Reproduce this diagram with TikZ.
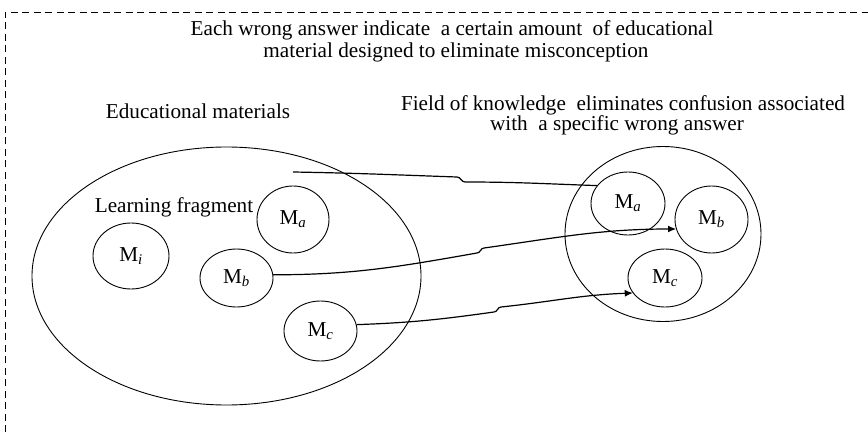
\documentclass[tikz,border=0pt]{standalone}
\usepackage{fontspec}
\setmainfont{Liberation Serif}
\usetikzlibrary{shapes.geometric, arrows.meta, positioning}

\newcommand{\mtxt}[1]{M\textsubscript{\itshape #1}}

\begin{document}
\begin{tikzpicture}[x=1pt, y=1pt,
  txt/.style={font=\fontsize{21.2}{22}\selectfont, align=center, inner sep=0pt},
  area/.style={ellipse, draw, line width=0.9pt, inner sep=0pt},
  frag/.style={ellipse, draw, line width=0.9pt, inner sep=0pt,
    font=\fontsize{21.2}{22}\selectfont},
  link/.style={line width=1.2pt},
  arrow/.style={line width=1.2pt, -{Latex[length=8pt,width=7pt]}}
]
\useasboundingbox (0,0) rectangle (868,432);

% Frame
\draw[line width=0.8pt, dash pattern=on 7pt off 4.5pt]
  (5,0) -- (5,420) -- (868,420);

% Title
\node[txt, anchor=base] (title) at (452,396)
  {Each wrong answer indicate\ \ a certain amount\ \ of educational};
\node[txt, anchor=base] (title2) at (456,374)
  {material designed to eliminate misconception};

% Left side: educational materials
\node[area, minimum width=389, minimum height=258] (edu) at (226.5,156) {};
\node[txt, anchor=base] (edulbl) at (198,313) {Educational materials};
\node[txt, anchor=base] (fraglbl) at (174,220) {Learning fragment};

\node[frag, minimum width=72, minimum height=67] (Ma) at (293,212.5) {\mtxt{a}};
\node[frag, minimum width=76, minimum height=66] (Mi) at (131,176) {\mtxt{i}};
\node[frag, minimum width=73, minimum height=58] (Mb) at (236.5,154) {\mtxt{b}};
\node[frag, minimum width=73, minimum height=60] (Mc) at (320.5,101) {\mtxt{c}};

% Right side: field of knowledge
\node[area, minimum width=196, minimum height=175] (field) at (663,198) {};
\node[txt, anchor=base] (fieldlbl) at (623,321)
  {Field of knowledge\ \ eliminates confusion associated};
\node[txt, anchor=base] (fieldlbl2) at (617,301)
  {with\ \ a specific wrong answer};

\node[frag, minimum width=74, minimum height=63] (Mar) at (628,228.5) {\mtxt{a}};
\node[frag, minimum width=73, minimum height=67] (Mbr) at (711.5,212.5) {\mtxt{b}};
\node[frag, minimum width=74, minimum height=58] (Mcr) at (665,154) {\mtxt{c}};

% Connectors
\coordinate (src) at (293,260);
\coordinate (ka1) at (457,255);
\coordinate (ka2) at (465,250);
\coordinate (kb1) at (477,179);
\coordinate (kb2) at (484,184);
\coordinate (kc1) at (494,120);
\coordinate (kc2) at (501,125);

\draw[link] (src) to[out=-1,in=178] (ka1) to[out=0,in=180] (ka2)
  to[out=0,in=178] (Mar.150);
\draw[arrow] (Mb.5) to[out=0,in=190] (kb1) to[out=0,in=180] (kb2)
  to[out=8,in=180] (Mbr.195);
\draw[arrow] (Mc.10) to[out=2,in=188] (kc1) to[out=0,in=180] (kc2)
  to[out=6,in=182] (Mcr.205);
\end{tikzpicture}
\end{document}
